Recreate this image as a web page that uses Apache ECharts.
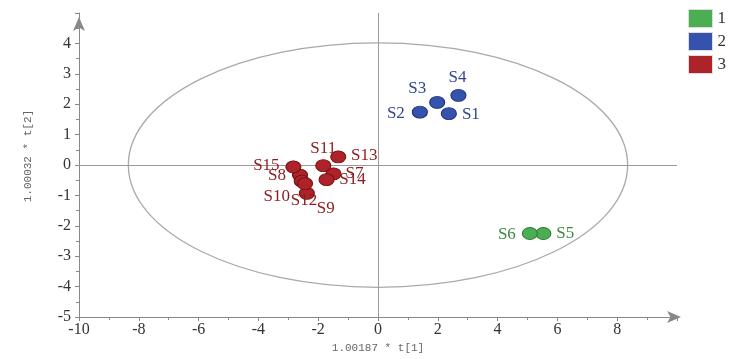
<!DOCTYPE html>
<html>
<head>
<meta charset="utf-8">
<script src="https://cdn.jsdelivr.net/npm/echarts@6/dist/echarts.min.js"></script>
<style>html,body{margin:0;padding:0;background:#fff;}#c{width:729px;height:359px;}</style>
</head>
<body>
<div id="c"></div>
<script>
// ---- data ----
var groupNames = ['1', '2', '3'];
var group1Names = ['S5', 'S6'];
var group1Values = [[5.53, -2.25], [5.08, -2.25]];
var group2Names = ['S1', 'S2', 'S3', 'S4'];
var group2Values = [[2.37, 1.69], [1.40, 1.74], [1.98, 2.06], [2.69, 2.29]];
var group3Names = ['S7', 'S8', 'S9', 'S10', 'S11', 'S12', 'S13', 'S14', 'S15'];
var group3Values = [[-1.49, -0.29], [-2.61, -0.33], [-2.38, -0.93], [-2.55, -0.53], [-1.83, -0.02], [-2.44, -0.61], [-1.33, 0.27], [-1.72, -0.48], [-2.83, -0.06]];
var ellipseParams = [0, 0, 8.35, 4.02]; // center x, center y, radius x, radius y
var xTicks = [-10, -8, -6, -4, -2, 0, 2, 4, 6, 8];
var yTicks = [-5, -4, -3, -2, -1, 0, 1, 2, 3, 4];

// label placement (pixel offsets from the point)
var labelOffsets = {
  S1: [22, 1], S2: [-24, 1], S3: [-20, -14], S4: [-1, -18],
  S5: [22, 0], S6: [-23, 1],
  S7: [21, 0], S8: [-23, 0], S9: [19, 15], S10: [-25, 15], S11: [0, -17],
  S12: [-1, 17], S13: [26, -1], S14: [26, 0], S15: [-27, -1]
};

var fills = ['#4cae52', '#3552ad', '#ad2329'];
var borders = ['#2f7a35', '#1f3378', '#761014'];
var textColors = ['#3b8a42', '#33468f', '#8e1b1f'];
var serif = 'Liberation Serif';

function items(names, vals) {
  return names.map(function (n, i) {
    return { name: n, value: vals[i], label: { offset: labelOffsets[n] } };
  });
}

function scatter(idx, names, vals) {
  return {
    name: groupNames[idx],
    type: 'scatter',
    symbol: 'circle',
    symbolSize: [15, 12],
    z: 5,
    itemStyle: { color: fills[idx], borderColor: borders[idx], borderWidth: 1, opacity: 1 },
    label: {
      show: true, position: 'inside', formatter: '{b}',
      fontFamily: serif, fontSize: 17, color: textColors[idx]
    },
    emphasis: { disabled: true },
    data: items(names, vals)
  };
}

var chart = echarts.init(document.getElementById('c'), null, { renderer: 'canvas' });
var option = {
  backgroundColor: '#ffffff',
  animation: false,
  grid: { left: 79, right: 52, top: 13, bottom: 41 },
  legend: {
    data: groupNames,
    orient: 'vertical',
    left: 683, top: 4,
    itemWidth: 24, itemHeight: 18, itemGap: 4,
    icon: 'rect',
    textStyle: { fontFamily: serif, fontSize: 17, color: '#333' },
    itemStyle: { borderColor: '#ddd', borderWidth: 1 }
  },
  xAxis: {
    type: 'value', min: -10, max: 10, interval: 2,
    name: '1.00187 * t[1]', nameLocation: 'middle', nameGap: 24,
    nameTextStyle: { fontFamily: 'Liberation Mono', fontSize: 11, color: '#666' },
    axisLine: { onZero: false, lineStyle: { color: '#888', width: 1 }, symbol: ['none', 'arrow'], symbolSize: [9, 14], symbolOffset: [0, 4] },
    axisTick: { show: true, length: 4, lineStyle: { color: '#888' } },
    minorTick: { show: true, splitNumber: 2, length: 3, lineStyle: { color: '#888' } },
    splitLine: { show: false },
    axisLabel: {
      fontFamily: serif, fontSize: 16, color: '#333', margin: 5,
      formatter: function (v) { return xTicks.indexOf(v) >= 0 ? String(v) : ''; }
    }
  },
  yAxis: {
    type: 'value', min: -5, max: 5, interval: 1,
    name: '1.00032 * t[2]', nameLocation: 'middle', nameGap: 45,
    nameTextStyle: { fontFamily: 'Liberation Mono', fontSize: 11, color: '#666', padding: [0, 0, 0, 18] },
    axisLine: { onZero: false, lineStyle: { color: '#888', width: 1 }, symbol: ['none', 'arrow'], symbolSize: [9, 14], symbolOffset: [0, -4] },
    axisTick: { show: true, length: 4, lineStyle: { color: '#888' } },
    minorTick: { show: true, splitNumber: 2, length: 3, lineStyle: { color: '#888' } },
    splitLine: { show: false },
    axisLabel: {
      fontFamily: serif, fontSize: 16, color: '#333', margin: 8,
      formatter: function (v) { return yTicks.indexOf(v) >= 0 ? String(v) : ''; }
    }
  },
  series: [
    {
      type: 'custom',
      silent: true,
      z: 1,
      renderItem: function (params, api) {
        var c = api.coord([api.value(0), api.value(1)]);
        var s = api.size([api.value(2), api.value(3)]);
        return {
          type: 'ellipse',
          shape: { cx: c[0], cy: c[1], rx: s[0], ry: s[1] },
          style: { fill: 'none', stroke: '#a9a9a9', lineWidth: 1.3 }
        };
      },
      data: [ellipseParams],
      markLine: {
        silent: true, symbol: 'none', animation: false,
        label: { show: false },
        lineStyle: { color: '#9a9a9a', type: 'solid', width: 1 },
        data: [{ xAxis: 0 }, { yAxis: 0 }]
      }
    },
    scatter(0, group1Names, group1Values),
    scatter(1, group2Names, group2Values),
    scatter(2, group3Names, group3Values)
  ]
};
chart.setOption(option);
</script>
</body>
</html>
